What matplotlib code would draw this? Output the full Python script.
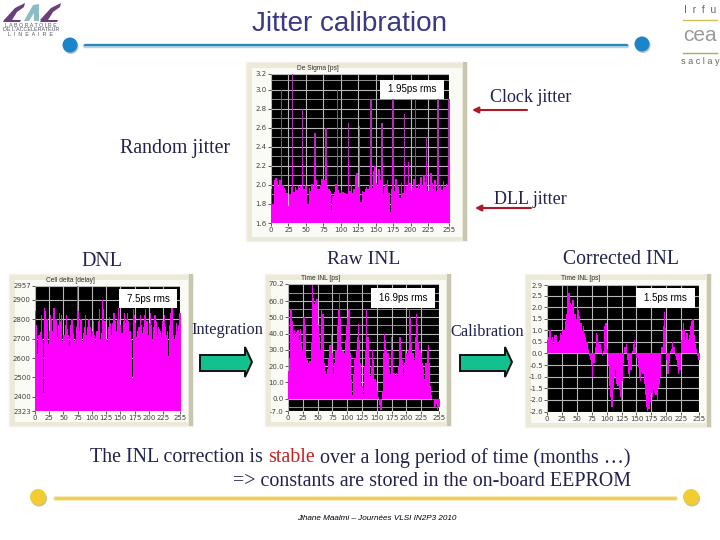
import matplotlib
matplotlib.use("Agg")
from matplotlib import pyplot as plt
from matplotlib.patches import Rectangle, Polygon, Circle
import numpy as np

W, H = 720, 540
SANS = "Liberation Sans"
SERIF = "Liberation Serif"
INK = "#22224E"

# channel values, one for every 2 channels (ch = 1, 3, 5 ... 255)
sigma = [1.96, 1.80, 2.05, 2.07, 2.04, 1.99, 2.05, 3.00,
         2.00, 1.97, 1.95, 1.92, 1.78, 1.90, 1.98, 3.16,
         1.93, 1.98, 1.95, 1.99, 1.97, 1.99, 2.80, 1.96,
         2.00, 1.99, 1.80, 1.97, 1.94, 2.01, 1.99, 2.55,
         2.05, 1.96, 1.96, 2.00, 2.06, 2.06, 2.05, 2.60,
         1.99, 1.96, 1.94, 1.74, 1.88, 1.93, 2.01, 3.00,
         1.95, 1.92, 1.95, 1.93, 1.91, 1.92, 1.90, 2.65,
         1.94, 2.00, 1.92, 1.96, 2.10, 2.12, 1.98, 2.62,
         1.82, 1.94, 1.93, 1.96, 1.98, 1.96, 2.00, 2.90,
         1.97, 2.15, 2.20, 2.02, 1.98, 2.17, 2.05, 2.65,
         1.90, 1.98, 2.01, 2.05, 1.92, 1.72, 1.96, 2.95,
         1.94, 2.06, 2.00, 1.98, 1.86, 2.02, 1.92, 2.75,
         1.94, 1.99, 2.24, 2.02, 1.94, 1.98, 2.06, 2.95,
         1.97, 2.01, 1.96, 2.08, 2.00, 2.10, 2.03, 2.50,
         1.94, 1.98, 2.13, 2.02, 1.96, 2.05, 1.94, 2.90,
         1.97, 2.00, 1.95, 2.04, 1.98, 2.01, 1.99, 2.90]

cell_delta = [2840, 2770, 2620, 2720, 2735, 2820, 2700, 2420,
              2860, 2840, 2800, 2670, 2740, 2820, 2800, 2740,
              2860, 2860, 2800, 2710, 2770, 2830, 2790, 2820,
              2690, 2720, 2770, 2820, 2750, 2720, 2660, 2770,
              2800, 2730, 2690, 2700, 2760, 2971, 2840, 2740,
              2800, 2690, 2730, 2760, 2820, 2720, 2760, 2800,
              2760, 2710, 2740, 2790, 2720, 2680, 2740, 2790,
              2850, 2700, 2730, 2900, 2850, 2790, 2700, 2680,
              2760, 2810, 2780, 2720, 2780, 2830, 2790, 2740,
              2800, 2860, 2800, 2770, 2730, 2790, 2830, 2780,
              2800, 2830, 2790, 2740, 2700, 2495, 2850, 2820,
              2780, 2710, 2740, 2760, 2820, 2770, 2730, 2760,
              2820, 2850, 2790, 2720, 2780, 2830, 2770, 2700,
              2760, 2820, 2790, 2720, 2760, 2750, 2740, 2710,
              2790, 2820, 2760, 2720, 2740, 2610, 2770, 2830,
              2860, 2720, 2700, 2720, 2780, 2740, 2770, 2830]

raw_inl = [17, 25, 55, 48, 40, 42, 38, 41,
           42, 36, 43, 34, 30, 50, 45, 25,
           24, 22, 23, 35, 70, 62, 58, 60,
           61, 45, 38, 30, 55, 52, 22, 17,
           15, 18, 25, 33, 40, 28, 15, 22,
           30, 45, 55, 65, 50, 32, 29, 28,
           36, 45, 50, 55, 28, 12, 2, 15,
           25, 30, 38, 46, 36, 22, 8, 3,
           20, 30, 55, 38, 25, 14, 20, 30,
           24, 12, 10, 5, 1, -4, -7, 5,
           28, 40, 36, 30, 28, 18, 15, 38,
           30, 16, 14, 16, 14, 20, 38, 30,
           24, 14, 22, 30, 28, 30, 55, 50,
           35, 28, 24, 38, 52, 46, 35, 30,
           28, 22, 18, 12, 22, 30, 33, 22,
           8, 2, -1, -5, -6, -3, -7, -5]

corrected_inl = [0.6, 0.7, 1.0, 0.6, 0.7, 0.4, 0.8, 0.8,
                 0.5, 0.5, 0.6, 0.9, 0.8, 1.0, 1.0, 1.4,
                 1.7, 2.9, 2.6, 2.2, 2.1, 2.3, 2.3, 1.7,
                 1.5, 2.0, 1.9, 1.6, 1.3, 1.0, 1.2, 0.9,
                 0.7, 0.5, 0.2, -0.1, -0.3, -0.5, -1.0, -0.4,
                 0.3, 0.9, 0.8, 0.5, 0.4, 0.2, -0.1, 0.1,
                 1.2, 1.3, 0.2, -0.5, -1.4, -1.9, -2.3, -1.6,
                 -1.0, -0.7, -1.3, -1.4, -1.6, -1.9, -2.0, -1.2,
                 -0.4, 0.3, 0.4, -0.3, -0.9, -1.1, -0.7, 0.1,
                 0.4, 0.6, 0.3, -0.2, -0.6, -1.0, -1.2, -0.8,
                 -0.9, -1.3, -1.8, -2.3, -2.5, -2.4, -2.1, -1.7,
                 -1.9, -1.5, -1.7, -1.8, -2.0, -1.5, -1.3, -1.0,
                 0.3, 1.2, 1.8, 1.1, -0.3, -0.9, -0.4, 0.1,
                 0.2, 0.5, 0.3, -0.1, -0.3, -0.6, -0.9, -0.7,
                 0.6, 1.0, 1.3, 1.0, 0.6, 0.9, 0.6, 0.8,
                 1.2, 1.4, 1.5, 0.8, 0.4, 0.2, -0.1, -0.3]

x_ticks = [0, 25, 50, 75, 100, 125, 150, 175, 200, 225, 255]

sigma_ticks = [1.6, 1.8, 2.0, 2.2, 2.4, 2.6, 2.8, 3.0, 3.165]
sigma_labels = ["1.6", "1.8", "2.0", "2.2", "2.4", "2.6", "2.8", "3.0", "3.2"]
delta_ticks = [2327, 2400, 2500, 2600, 2700, 2800, 2900, 2971]
delta_labels = ["2323", "2400", "2500", "2600", "2700", "2800", "2900", "2957"]
raw_ticks = [-7.6, 0, 10, 20, 30, 40, 50, 60, 70.5]
raw_labels = ["-7.0", "0.0", "10.0", "20.0", "30.0", "40.0", "50.0", "60.0", "70.2"]
cor_ticks = [-2.53, -2, -1.5, -1, -0.5, 0, 0.5, 1, 1.5, 2, 2.5, 2.96]
cor_labels = ["-2.6", "-2.0", "-1.5", "-1.0", "-0.5", "0.0", "0.5", "1.0", "1.5", "2.0", "2.5", "2.9"]


def chart(box, frame, values, ticks, labels, base, title, title_x, rms, rms_box, minor=None, solid_below=None):
    # frame is the grey window round the plot, all in slide pixels
    fx0, fy0, fx1, fy1 = frame
    bg.add_patch(Rectangle((fx0, fy0), fx1 - fx0, fy1 - fy0, fc="#ECE9D8", ec="#F4F2E8", lw=1))
    bg.add_patch(Rectangle((fx1 - 4, fy0), 4, fy1 - fy0, fc="#C8C5B0", ec="none"))
    bg.add_patch(Rectangle((fx0 + 6, fy0 + 6), fx1 - fx0 - 11, fy1 - fy0 - 10, fc="#FBFBF5", ec="none"))

    x0, y0, x1, y1 = box
    ax = fig.add_axes([x0 / W, 1 - y1 / H, (x1 - x0) / W, (y1 - y0) / H], facecolor="black")
    edges = np.arange(len(values) + 1) * 2
    vals = np.array(values + values[-1:], dtype=float)
    if solid_below is None:
        ax.fill_between(edges, base, vals, step="post", color="#FF00FF", lw=0)
    else:
        # the thin spikes come out washed purple in the screenshot
        ax.fill_between(edges, base, vals, step="post", color="#B030B4", lw=0)
        ax.fill_between(edges, base, np.minimum(vals, solid_below), step="post", color="#FF00FF", lw=0)
    ax.set_xlim(0, 255)
    ax.set_ylim(ticks[0], ticks[-1])
    ax.set_xticks(x_ticks)
    ax.set_xticklabels(x_ticks)
    ax.set_yticks(ticks)
    ax.set_yticklabels(labels)
    if minor is not None:
        ax.set_yticks(minor, minor=True)
        ax.grid(True, which="minor", axis="y", color="#A8A8A8", lw=0.6)
    ax.grid(True, which="major", color="#B8B8B8", lw=0.8)
    ax.set_axisbelow(True)
    ax.tick_params(which="major", labelsize=5, length=2, width=0.6, pad=1, colors="#404040")
    ax.tick_params(which="minor", length=0)
    for s in ax.spines.values():
        s.set_visible(False)
    fg.text(title_x, y0 - 6, title, fontsize=4.8, color="#303030", ha="center", va="center", family=SANS)
    rx0, ry0, rx1, ry1 = rms_box
    fg.add_patch(Rectangle((rx0, ry0), rx1 - rx0, ry1 - ry0, fc="white", ec="none"))
    fg.text((rx0 + rx1) / 2, (ry0 + ry1) / 2, rms, fontsize=7, color="black",
            ha="center", va="center", family=SANS)
    return ax


def dot(cx, cy, r, col, shade):
    bg.add_patch(Circle((cx + 1, cy + 1.5), r, fc=shade, ec="none"))
    bg.add_patch(Circle((cx, cy), r, fc=col, ec="none"))


fig = plt.figure(figsize=(7.2, 5.4), dpi=100, facecolor="white")
# slide layer under the plots and another one above them, both in pixels
bg = fig.add_axes([0, 0, 1, 1], zorder=0)
fg = fig.add_axes([0, 0, 1, 1], zorder=5)
for a in (bg, fg):
    a.set_xlim(0, W)
    a.set_ylim(H, 0)
    a.axis("off")
    a.patch.set_alpha(0)

# header rule, footer rule
bg.plot([85, 627], [45.5, 45.5], color="#B4D4E4", lw=3.2, solid_capstyle="round")
bg.plot([85, 627], [45, 45], color="#2B88B8", lw=1.6, solid_capstyle="round")
dot(70, 45, 7.5, "#1C84C8", "#B8C4CC")
dot(642, 44, 7.5, "#1C84C8", "#B8C4CC")
bg.plot([55, 675], [498, 498], color="#F3E9B8", lw=3.6, solid_capstyle="round")
bg.plot([55, 675], [497.5, 497.5], color="#EBCB50", lw=1.8, solid_capstyle="round")
dot(38, 497, 8, "#F2CC30", "#C8C098")
dot(691, 497, 8, "#F2CC30", "#C8C098")

# CAL logo
bg.add_patch(Polygon([(4, 20), (15, 8), (25, 3), (24, 7), (17, 12), (12, 20)], fc="#6A3F7C", ec="none"))
bg.add_patch(Polygon([(4, 20), (21, 20), (20, 22), (3, 22)], fc="#6A3F7C", ec="none"))
bg.add_patch(Polygon([(24, 21), (33, 5), (39, 4), (39, 21), (34, 21), (34, 13), (29, 21)], fc="#8CBCC4", ec="none"))
bg.add_patch(Polygon([(40, 20), (51, 8), (61, 3), (60, 7), (53, 12), (48, 20)], fc="#6A3F7C", ec="none"))
bg.add_patch(Polygon([(41, 20), (58, 20), (57, 22), (40, 22)], fc="#6A3F7C", ec="none"))
for ty, s in zip([25.5, 29.5, 34], ["L A B O R A T O I R E", "DE L'ACCELERATEUR", "L  I  N  E  A  I  R  E"]):
    bg.text(31, ty, s, fontsize=3.9, color="#555566", ha="center", va="center", family=SANS)

# Irfu / cea / saclay logo
bg.text(700, 10, "I  r  f  u", fontsize=7.5, color="#6A6A5A", ha="center", va="center", family=SANS)
bg.plot([683, 717], [20, 20], color="#D8C050", lw=1)
bg.text(700, 35.5, "cea", fontsize=15, color="#9A9A9A", ha="center", va="center", family=SANS)
bg.plot([683, 717], [53, 53], color="#A8B050", lw=1)
bg.text(700, 62, "s a c l a y", fontsize=6.6, color="#6A6A5A", ha="center", va="center", family=SANS)

sigma_minor = [1.7, 1.9, 2.1, 2.3, 2.5, 2.7, 2.9, 3.1]
chart((271, 74, 449, 223), (246, 62, 467, 241), sigma, sigma_ticks, sigma_labels, 1.6,
      "De Sigma [ps]", 318, "1.95ps rms", (380, 80, 444, 99), sigma_minor, solid_below=2.25)
chart((35, 286, 180, 411), (9, 274, 193, 426), cell_delta, delta_ticks, delta_labels, 2327,
      "Cell delta [delay]", 70, "7.5ps rms", (119, 289, 177, 308))
chart((288, 284, 439, 411), (265, 274, 451, 426), raw_inl, raw_ticks, raw_labels, 0,
      "Time INL [ps]", 321, "16.9ps rms", (371, 288, 435, 308), [65, 55, 45, 35, 25, 15, 5, -5])
chart((547, 285, 699, 412), (525, 274, 711, 427), corrected_inl, cor_ticks, cor_labels, 0,
      "Time INL [ps]", 581, "1.5ps rms", (636, 288, 695, 308))

# texts
fg.text(349.5, 24, "Jitter calibration", fontsize=20.1, color="#3A3A84", ha="center", va="center", family=SANS)
for tx, ty, s, fs in [(175, 148, "Random jitter", 14.3), (531, 97, "Clock jitter", 13), (530, 199, "DLL jitter", 13),
                      (102, 261, "DNL", 14.4), (364, 260, "Raw INL", 14), (621, 260, "Corrected INL", 14.2)]:
    fg.text(tx, ty, s, fontsize=fs, color=INK, ha="center", va="center", family=SERIF)
for tx, ty, s in [(227, 330, "Integration"), (487, 332, "Calibration")]:
    fg.text(tx, ty, s, fontsize=11.8, color=INK, ha="center", va="center", family=SERIF)

# red pointers
for ax0, ax1, ay in [(472, 527, 110), (475, 531, 208)]:
    fg.annotate("", xy=(ax0, ay), xytext=(ax1, ay),
                arrowprops=dict(arrowstyle="-|>", color="#B01828", lw=1.5, mutation_scale=9, shrinkA=0, shrinkB=0))

# green block arrows
for ax0, ax1 in [(200, 252), (460, 512)]:
    mid = ax1 - 7
    fg.add_patch(Polygon([(ax0, 355), (mid, 355), (mid, 347), (ax1, 362), (mid, 377), (mid, 371), (ax0, 371)],
                         fc="#12C090", ec="#101010", lw=1.4))

# bottom lines
t = fg.text(90, 458, "The INL correction is ", fontsize=14.4, color=INK, va="center", family=SERIF)
fig.canvas.draw()
x_end = t.get_window_extent().x1 * W / fig.bbox.width
t2 = fg.text(x_end, 458, "stable", fontsize=14.4, color="#C82020", va="center", family=SERIF)
fig.canvas.draw()
x_end = t2.get_window_extent().x1 * W / fig.bbox.width
fg.text(x_end, 458, " over a long period of time (months \u2026)", fontsize=14.4, color=INK, va="center", family=SERIF)
fg.text(233, 482, "=> constants are stored in the on-board EEPROM", fontsize=14.4, color=INK, va="center", family=SERIF)
fg.text(377, 519, "Jihane Maalmi \u2013 Journ\u00e9es VLSI IN2P3 2010", fontsize=5.9, color="black", ha="center", va="center",
        family=SANS, style="italic")

fig.savefig("out.png", dpi=100)
